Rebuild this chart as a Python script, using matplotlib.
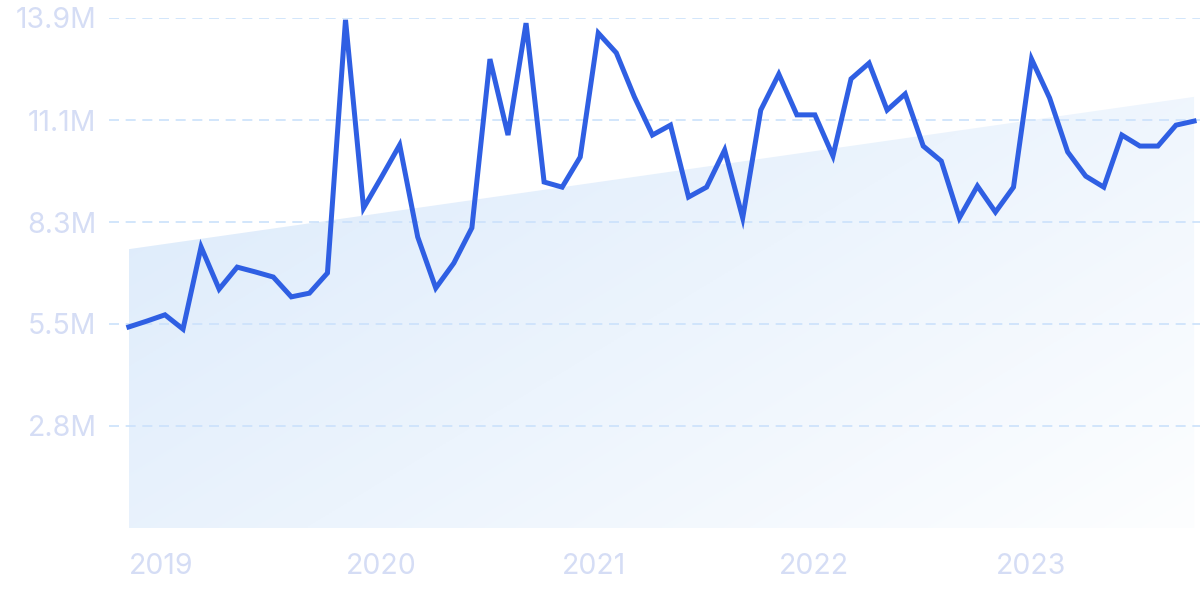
import numpy as np
import matplotlib
matplotlib.use("Agg")
import matplotlib.pyplot as plt

plt.rcParams['font.family'] = ['Inter', 'DejaVu Sans']

# monthly values, Jan 2019 .. Dec 2023 (millions)
values = [5.48, 5.64, 5.81, 5.42, 7.66, 6.51, 7.11, 6.98, 6.84, 6.30, 6.40, 6.95,
          13.85, 8.72, 9.57, 10.44, 7.93, 6.54, 7.22, 8.18, 12.78, 10.71, 13.76, 9.43,
          9.29, 10.11, 13.49, 12.95, 11.75, 10.71, 10.98, 9.02, 9.29, 10.30, 8.45, 11.39,
          12.37, 11.26, 11.26, 10.14, 12.24, 12.67, 11.39, 11.83, 10.41, 10.00, 8.45, 9.32,
          8.61, 9.29, 12.78, 11.72, 10.25, 9.59, 9.29, 10.71, 10.41, 10.41, 10.98, 11.09]
months = np.arange(len(values))

# trend band: value at first and last month
trend_x = [0, len(values) - 1]
trend_y = [7.60, 11.75]

y_ticks = [2.78, 5.56, 8.34, 11.12, 13.9]
y_labels = ["2.8M", "5.5M", "8.3M", "11.1M", "13.9M"]
x_ticks = [0, 12, 24, 36, 48]
x_labels = ["2019", "2020", "2021", "2022", "2023"]

label_color = "#d5ddf5"
line_color = "#2f5fe3"
grid_color = "#cbe1fb"

fig = plt.figure(figsize=(12, 6), dpi=100)
ax = fig.add_axes([109 / 1200, 72 / 600, 1091 / 1200, 510 / 600])

# gradient fill under the trend line
poly = ax.fill_between(trend_x, 0, trend_y, color="none", lw=0)
h, w = 200, 400
gy, gx = np.mgrid[0:1:h * 1j, 0:1:w * 1j]
t = np.clip((gx * 0.6 + gy * 0.4), 0, 1)
c0 = np.array([219, 234, 251]) / 255
c1 = np.array([253, 254, 255]) / 255
img = np.zeros((h, w, 4))
for k in range(3):
    img[..., k] = c0[k] + (c1[k] - c0[k]) * t
img[..., 3] = 1
im = ax.imshow(img, extent=(trend_x[0], trend_x[1], 0, max(trend_y)), origin="upper",
               aspect="auto", zorder=1)
im.set_clip_path(poly.get_paths()[0], transform=ax.transData)

for yt in y_ticks:
    ax.axhline(yt, color=grid_color, lw=1.2, dashes=(6, 4), zorder=2)

ax.plot(months, values, color=line_color, lw=3.6, solid_joinstyle="miter",
        zorder=3, clip_on=False)

ax.set_xlim(-1.1, len(values) - 1 + 0.33)
ax.set_ylim(0, 13.9)
ax.set_yticks(y_ticks)
ax.set_yticklabels(y_labels)
ax.set_xticks(x_ticks)
ax.set_xticklabels(x_labels, ha="left")
ax.tick_params(axis="both", length=0, colors=label_color, labelsize=20.5)
ax.tick_params(axis="y", pad=9)
ax.tick_params(axis="x", pad=18)
for s in ax.spines.values():
    s.set_visible(False)

fig.savefig("out.png", dpi=100)
